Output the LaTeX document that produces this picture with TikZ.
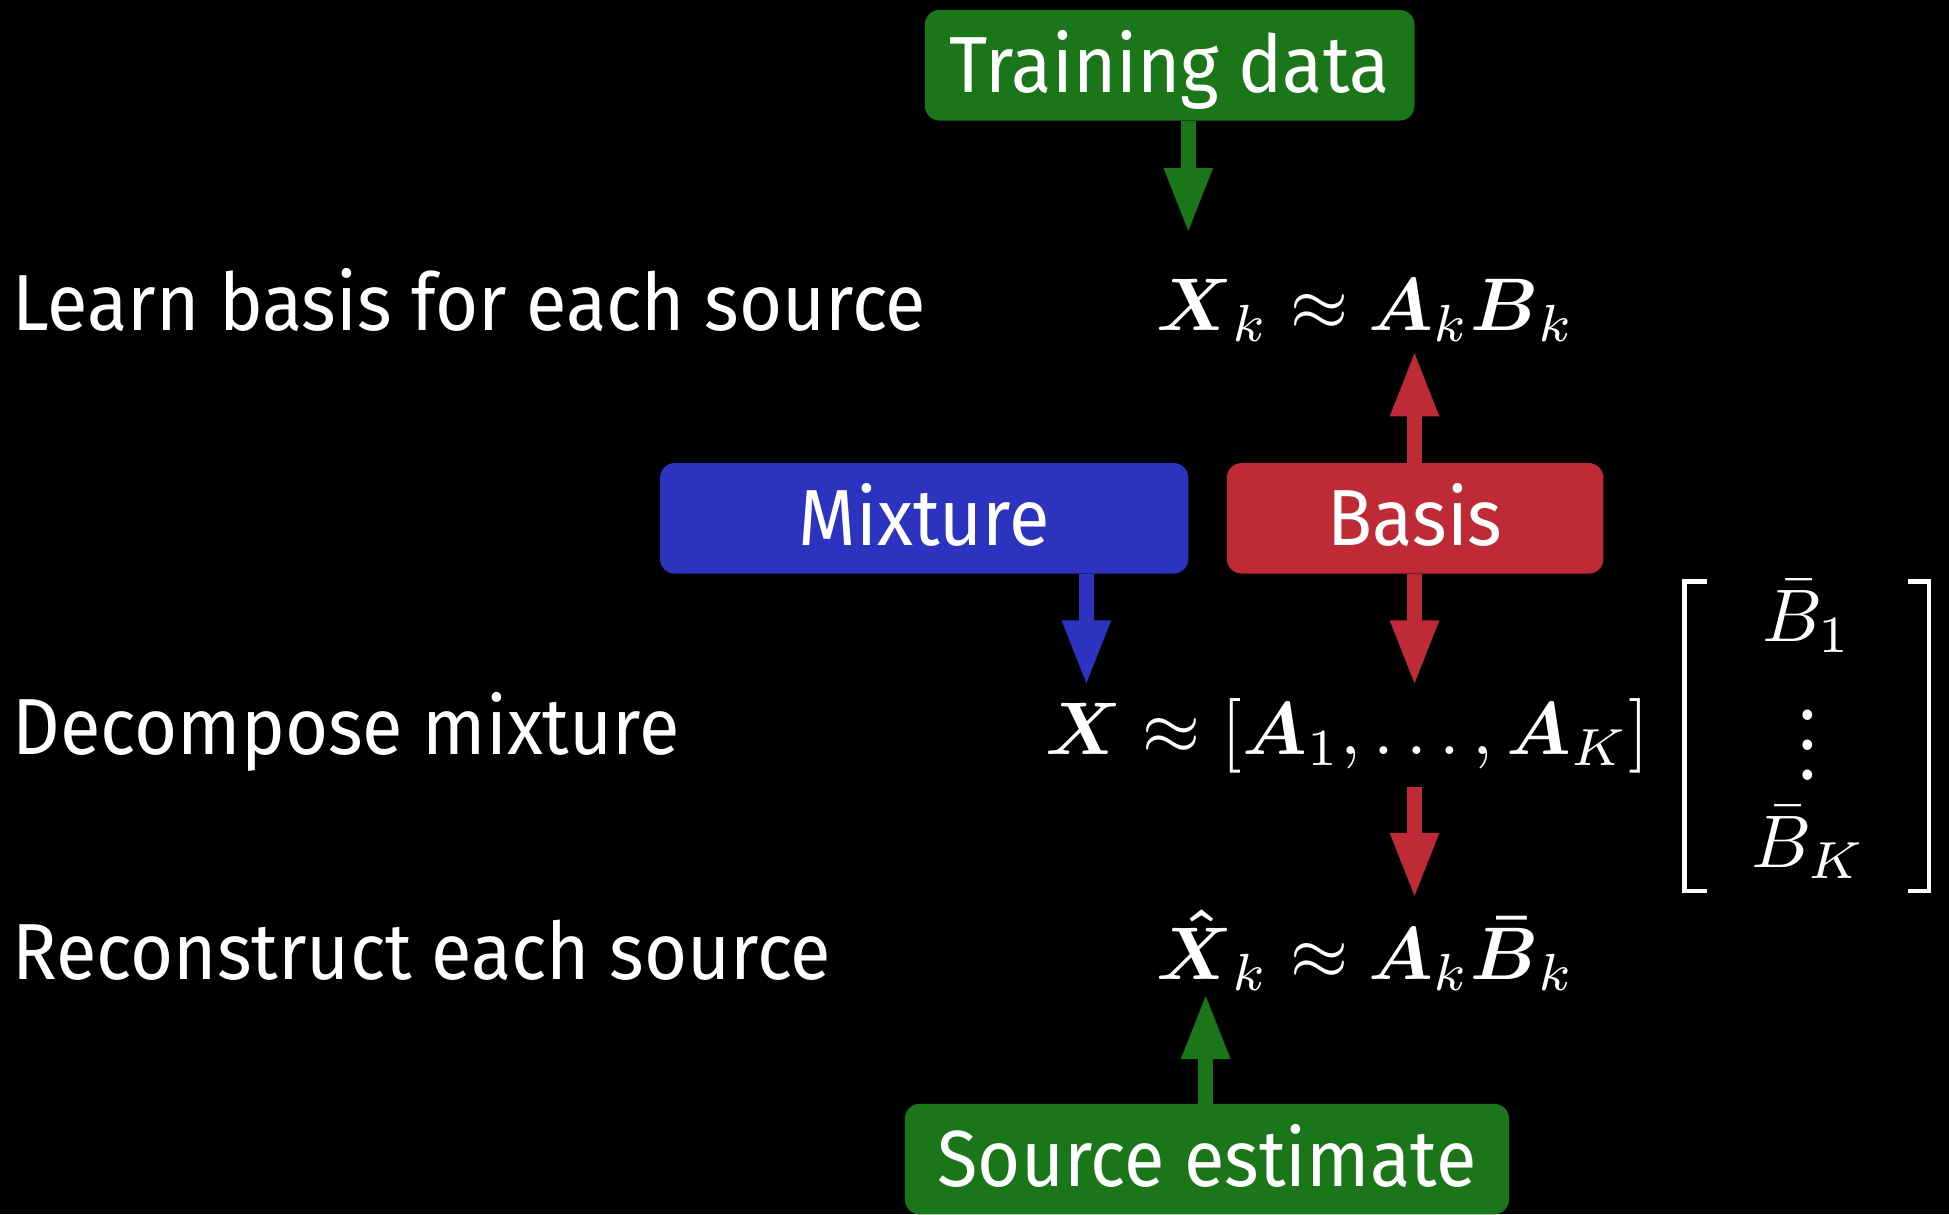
\documentclass[tikz,border=0pt]{standalone}
\usepackage{amsmath}
\usepackage{graphicx}
\usepackage[no-math]{fontspec}
\setmainfont{Fira Sans}[FakeStretch=0.93]
\usetikzlibrary{arrows.meta}
\definecolor{tgreen}{RGB}{27,118,26}
\definecolor{tblue}{RGB}{44,51,191}
\definecolor{tred}{RGB}{190,42,54}
\newcommand{\bigmath}[1]{\scalebox{6}{$#1$}}
\tikzset{
  lbl/.style={text=white, font=\fontsize{64}{77}\selectfont, anchor=base west, inner sep=0pt},
  mth/.style={text=white, font=\fontsize{10}{12}\selectfont, anchor=base west, inner sep=0pt},
  box/.style={rounded corners=12pt, text=white, font=\fontsize{64}{77}\selectfont, inner sep=0pt, text height=44pt, text depth=0pt, minimum height=89pt},
  conn/.style={line width=12pt, -{Triangle[width=36pt,length=53pt]}},
  brk/.style={draw=white, line width=3.6pt},
}
\begin{document}
\begin{tikzpicture}[x=1pt,y=-1pt]
\fill[black] (0,0) rectangle (1568,977);
\useasboundingbox (0,0) rectangle (1568,977);

% boxes
\node[box, fill=tgreen, minimum width=394pt] (train) at (941,52.5) {Training data};
\node[box, fill=tblue, minimum width=425pt] (mix) at (743.5,417) {Mixture};
\node[box, fill=tred, minimum width=303pt] (basis) at (1138.5,417) {Basis};
\node[box, fill=tgreen, minimum width=486pt] (src) at (971,932.5) {Source estimate};

% left labels
\node[lbl] (l1) at (10,266) {Learn basis for each source};
\node[lbl] (l2) at (10,607) {Decompose mixture};
\node[lbl] (l3) at (10,788) {Reconstruct each source};

% equations
\node[mth] (e1) at (930,266) {\bigmath{\boldsymbol{X}_k\approx\boldsymbol{A}_k\boldsymbol{B}_k}};
\node[mth] (e2) at (841,607) {\bigmath{\boldsymbol{X}\approx[\boldsymbol{A}_1,\ldots,\boldsymbol{A}_K]}};
\node[mth] (e3) at (930,788) {\bigmath{\boldsymbol{\hat{X}}_k\approx\boldsymbol{A}_k\boldsymbol{\bar{B}}_k}};

% stacked matrix
\node[mth, anchor=base] (b1) at (1454,516) {\bigmath{\bar{B}_1}};
\node[mth, anchor=base] (vd) at (1454,627) {\bigmath{\vdots}};
\node[mth, anchor=base] (bK) at (1455,698) {\bigmath{\bar{B}_K}};
\draw[brk] (1373,468) -- (1355,468) -- (1355,717) -- (1373,717);
\draw[brk] (1535,468) -- (1552,468) -- (1552,717) -- (1535,717);

% arrows
\coordinate (t1) at (956,188);
\draw[conn, tgreen] (train.south -| t1) -- (t1);
\coordinate (t2) at (1138,282);
\draw[conn, tred] (basis.north -| t2) -- (t2);
\coordinate (t3) at (874,552);
\draw[conn, tblue] (mix.south -| t3) -- (t3);
\coordinate (t4) at (1138,552);
\draw[conn, tred] (basis.south -| t4) -- (t4);
\coordinate (s5) at (1138,633);
\coordinate (t5) at (1138,723);
\draw[conn, tred] (s5) -- (t5);
\coordinate (t6) at (970,799);
\draw[conn, tgreen] (src.north -| t6) -- (t6);
\end{tikzpicture}
\end{document}
